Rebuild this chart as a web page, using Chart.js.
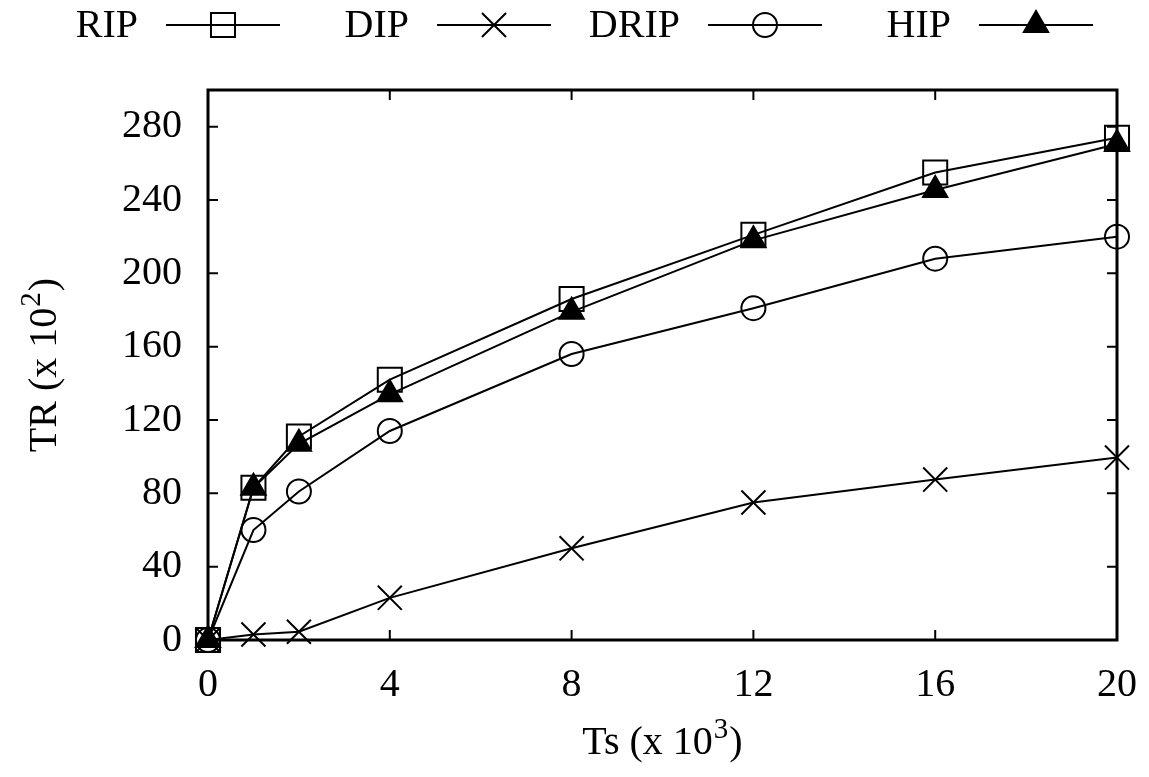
<!DOCTYPE html>
<html>
<head>
<meta charset="utf-8">
<script src="https://cdn.jsdelivr.net/npm/chart.js@4/dist/chart.umd.min.js"></script>
<style>
html, body { margin: 0; padding: 0; background: #fff; }
#wrap { width: 1149px; height: 777px; }
</style>
</head>
<body>
<div id="wrap"><canvas id="chart_tr" width="1149" height="777"></canvas></div>
<script>
// Ts (x 10^3)
var ts = [0, 1, 2, 4, 8, 12, 16, 20];
// TR (x 10^2)
var rip  = [0, 83, 111, 142, 186, 221, 255, 274];
var dip  = [0, 3, 4.5, 23, 50, 75, 87.5, 99.5];
var drip = [0, 60, 81, 114, 156, 181, 208, 220];
var hip  = [0, 83, 107, 134, 179, 218, 245.5, 270.5];

var xTicks = [0, 4, 8, 12, 16, 20];
var yTicks = [0, 40, 80, 120, 160, 200, 240, 280];

var xTitle = ['Ts (x 10', '3', ')'];
var yTitle = ['TR (x 10', '2', ')'];

var FONT = 'Liberation Serif';

function pts(ys) {
    return ts.map(function (t, i) { return { x: t, y: ys[i] }; });
}

function series(label, ys, style, radius, fill) {
    return {
        label: label,
        data: pts(ys),
        borderColor: '#000',
        borderWidth: 2,
        pointStyle: style,
        pointRadius: radius,
        pointHoverRadius: radius,
        pointBorderWidth: 2,
        pointBorderColor: '#000',
        pointBackgroundColor: fill,
        tension: 0,
        fill: false,
        clip: false
    };
}

// gnuplot-like frame with inward ticks on all four sides
var framePlugin = {
    id: 'frame',
    beforeDatasetsDraw: function (chart) {
        var ctx = chart.ctx, a = chart.chartArea;
        var xs = chart.scales.x, ys = chart.scales.y;
        ctx.save();
        ctx.strokeStyle = '#000';
        ctx.lineWidth = 2;
        ctx.beginPath();
        xTicks.forEach(function (v) {
            var px = xs.getPixelForValue(v);
            ctx.moveTo(px, a.bottom); ctx.lineTo(px, a.bottom - 10);
            ctx.moveTo(px, a.top); ctx.lineTo(px, a.top + 10);
        });
        yTicks.forEach(function (v) {
            var py = ys.getPixelForValue(v);
            ctx.moveTo(a.left, py); ctx.lineTo(a.left + 10, py);
            ctx.moveTo(a.right, py); ctx.lineTo(a.right - 10, py);
        });
        ctx.stroke();
        ctx.lineWidth = 3;
        ctx.strokeRect(a.left, a.top, a.right - a.left, a.bottom - a.top);
        ctx.restore();
    }
};

// axis title with a raised exponent, centred on (0,0) of the current transform
function drawSupTitle(ctx, parts) {
    var big = '40px "' + FONT + '"', small = '29px "' + FONT + '"';
    ctx.font = big;
    var w0 = ctx.measureText(parts[0]).width;
    var w2 = ctx.measureText(parts[2]).width;
    ctx.font = small;
    var w1 = ctx.measureText(parts[1]).width + 2;
    var x = -(w0 + w1 + w2) / 2;
    ctx.textAlign = 'left';
    ctx.textBaseline = 'alphabetic';
    ctx.font = big;
    ctx.fillText(parts[0], x, 13);
    ctx.font = small;
    ctx.fillText(parts[1], x + w0 + 1, -3);
    ctx.font = big;
    ctx.fillText(parts[2], x + w0 + w1, 13);
}

// legend on top (text, then line sample with marker) and axis titles
var keyPlugin = {
    id: 'key',
    afterDraw: function (chart) {
        var ctx = chart.ctx, a = chart.chartArea;
        ctx.save();
        ctx.fillStyle = '#000';
        chart.data.datasets.forEach(function (ds, i) {
            var x0 = 166 + i * 271, y = 25;
            ctx.font = '40px "' + FONT + '"';
            ctx.textAlign = 'right';
            ctx.textBaseline = 'middle';
            ctx.fillStyle = '#000';
            ctx.fillText(ds.label, x0 - 28, y + 1);
            ctx.strokeStyle = '#000';
            ctx.lineWidth = 2;
            ctx.beginPath();
            ctx.moveTo(x0, y); ctx.lineTo(x0 + 114, y);
            ctx.stroke();
            ctx.fillStyle = ds.pointBackgroundColor;
            Chart.helpers.drawPoint(ctx, {
                pointStyle: ds.pointStyle,
                radius: ds.pointRadius,
                rotation: 0,
                borderWidth: 2
            }, x0 + 57, y);
        });
        ctx.fillStyle = '#000';
        ctx.save();
        ctx.translate((a.left + a.right) / 2, 741);
        drawSupTitle(ctx, xTitle);
        ctx.restore();
        ctx.save();
        ctx.translate(43, (a.top + a.bottom) / 2);
        ctx.rotate(-Math.PI / 2);
        drawSupTitle(ctx, yTitle);
        ctx.restore();
        ctx.restore();
    }
};

Chart.defaults.font.family = FONT;
Chart.defaults.font.size = 40;
Chart.defaults.color = '#000';

var chart_tr = new Chart(document.getElementById('chart_tr'), {
    type: 'line',
    data: {
        datasets: [
            series('RIP', rip, 'rect', 17, 'rgba(0,0,0,0)'),
            series('DIP', dip, 'crossRot', 17, 'rgba(0,0,0,0)'),
            series('DRIP', drip, 'circle', 12, 'rgba(0,0,0,0)'),
            series('HIP', hip, 'triangle', 14, '#000')
        ]
    },
    options: {
        responsive: false,
        animation: false,
        events: [],
        layout: {
            padding: { top: 90, right: 32, left: 0, bottom: 0 }
        },
        plugins: {
            legend: { display: false },
            tooltip: { enabled: false }
        },
        scales: {
            x: {
                type: 'linear',
                min: 0,
                max: 20,
                afterFit: function (s) {
                    s.height = 137;
                    s.paddingLeft = 0;
                    s.paddingRight = 0;
                },
                grid: { display: false, drawTicks: false },
                border: { display: false },
                ticks: { stepSize: 4, padding: 21, maxRotation: 0 },
                title: { display: false }
            },
            y: {
                type: 'linear',
                min: 0,
                max: 300,
                afterFit: function (s) {
                    s.width = 208;
                    s.paddingTop = 0;
                    s.paddingBottom = 0;
                },
                grid: { display: false, drawTicks: false },
                border: { display: false },
                ticks: { stepSize: 40, padding: 26, includeBounds: false },
                title: { display: false }
            }
        }
    },
    plugins: [framePlugin, keyPlugin]
});
</script>
</body>
</html>
